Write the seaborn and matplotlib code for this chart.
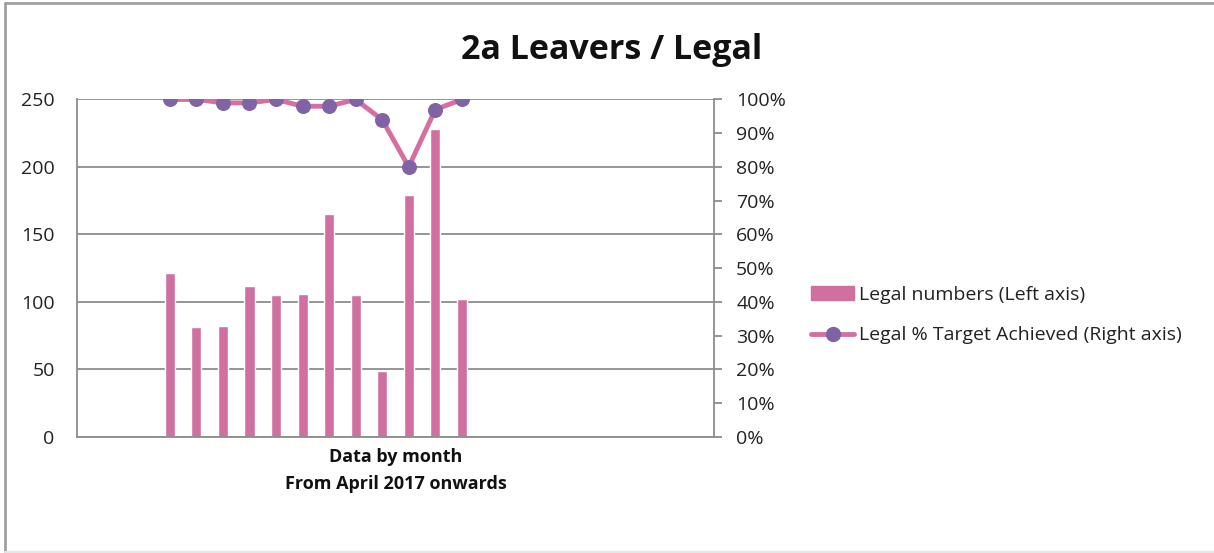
import numpy as np
import pandas as pd
import matplotlib
matplotlib.use("Agg")
import matplotlib.pyplot as plt
import seaborn as sns
from matplotlib.lines import Line2D
from matplotlib.patches import Patch

months = pd.date_range("2017-01-01", periods=24, freq="MS").strftime("%b %Y").tolist()
data_months = pd.date_range("2017-04-01", periods=12, freq="MS").strftime("%b %Y").tolist()
legal_numbers = [121, 81, 82, 112, 105, 106, 165, 105, 49, 179, 228, 102]
legal_pct = [100, 100, 99, 99, 100, 98, 98, 100, 94, 80, 97, 100]

df = pd.DataFrame({"month": months})
df = df.merge(pd.DataFrame({"month": data_months, "numbers": legal_numbers, "pct": legal_pct}),
              on="month", how="left")
df["pos"] = np.arange(len(df))

sns.set_theme(style="white")
plt.rcParams["font.family"] = ["Open Sans", "DejaVu Sans"]

BAR = "#D070A0"
LINE = "#D56FA2"
MARK = "#7F63A5"
GRID = "#8C8C8C"

fig = plt.figure(figsize=(12.14, 5.53), dpi=100)
ax = fig.add_axes([0.0634, 0.2103, 0.5247, 0.6098])

sns.barplot(data=df, x="month", y="numbers", order=months, color=BAR, width=0.38,
            saturation=1, ax=ax)
ax.set_ylim(0, 250)
ax.set_yticks([0, 50, 100, 150, 200, 250])
ax.yaxis.grid(True, color=GRID, linewidth=1.3)
ax.set_axisbelow(True)
ax.set_xticks([])
ax.set_xlim(-0.5, 23.5)
ax.tick_params(axis="y", labelsize=14, length=0, pad=16, colors="#222222")
for s in ["top", "right"]:
    ax.spines[s].set_visible(False)
for s in ["left", "bottom"]:
    ax.spines[s].set_color(GRID)
    ax.spines[s].set_linewidth(1.3)
ax.set_ylabel("")
ax.set_xlabel("Data by month\nFrom April 2017 onwards", fontsize=13, fontweight="bold",
              labelpad=8, linespacing=1.65, color="#111111")

ax2 = ax.twinx()
sub = df.dropna(subset=["pct"])
sns.lineplot(x=sub["pos"].values, y=sub["pct"].values, ax=ax2, color=LINE, linewidth=3.5,
             marker="o", markersize=10, markerfacecolor=MARK, markeredgecolor=MARK, zorder=5)
ax2.set_ylim(0, 100)
ax2.set_yticks(np.arange(0, 101, 10))
ax2.set_yticklabels([f"{v}%" for v in range(0, 101, 10)])
ax2.tick_params(axis="y", labelsize=14, length=6, width=1.3, pad=10, colors="#222222")
ax2.tick_params(axis="y", color=GRID)
for s in ["top", "left", "bottom"]:
    ax2.spines[s].set_visible(False)
ax2.spines["right"].set_color(GRID)
ax2.spines["right"].set_linewidth(1.3)
ax2.set_xlim(-0.5, 23.5)
ax2.grid(False)

fig.text(0.504, 0.91, "2a Leavers / Legal", ha="center", va="center", fontsize=24.5,
         fontweight="bold", color="#111111")

handles = [Patch(facecolor=BAR, edgecolor=BAR),
           Line2D([0], [0], color=LINE, linewidth=3.5, marker="o", markersize=10,
                  markerfacecolor=MARK, markeredgecolor=MARK)]
labels = ["Legal numbers (Left axis)", "Legal % Target Achieved (Right axis)"]
fig.legend(handles, labels, loc="center left", bbox_to_anchor=(0.654, 0.43), frameon=False,
           fontsize=14, handlelength=2.2, handletextpad=0.25, labelspacing=1.15,
           labelcolor="#222222")

# outer frame lines
fig.add_artist(Line2D([0.0045, 0.0045], [0, 0.995], transform=fig.transFigure, color="#A0A0A0", lw=2))
fig.add_artist(Line2D([0.0045, 1], [0.995, 0.995], transform=fig.transFigure, color="#A0A0A0", lw=2))
fig.add_artist(Line2D([0.0045, 1], [0.002, 0.002], transform=fig.transFigure, color="#E6E6E6", lw=1.5))

fig.savefig("out.png", dpi=100)
